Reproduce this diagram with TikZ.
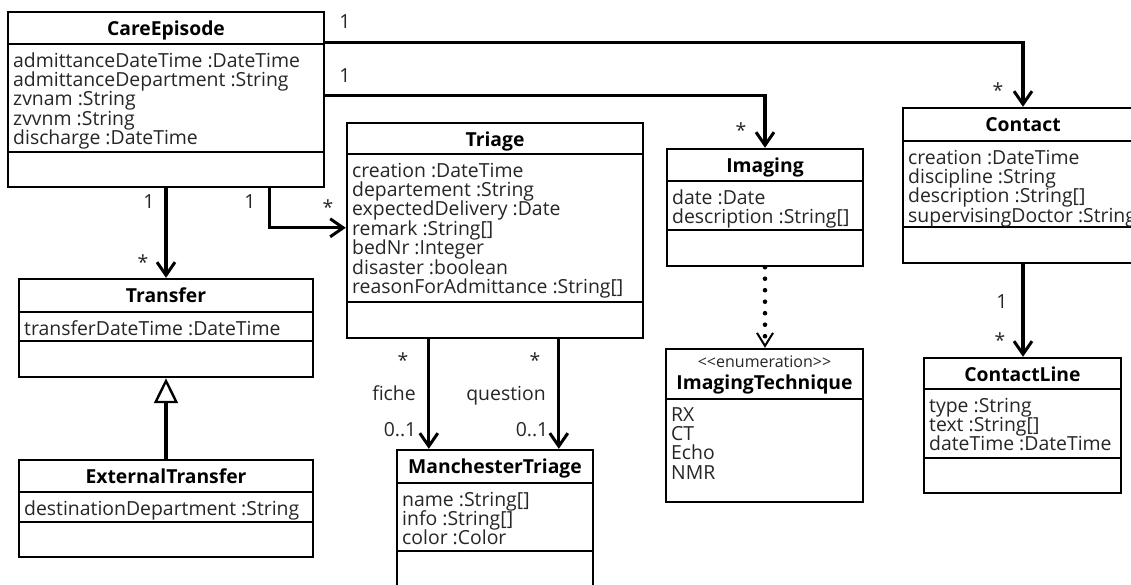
\documentclass[tikz,border=0pt]{standalone}
\usepackage{fontspec}
\setmainfont{Open Sans}
\usetikzlibrary{arrows.meta,fit,calc}

% class box: name, x1, x2, top, divider 1, divider 2, bottom, title, attributes
\newcommand\classbox[9]{%
  \node[box, fit={(#2,#4) (#3,#7)}] (#1) {};
  \draw[rule] (#2,#5) -- (#3,#5);
  \draw[rule] (#2,#6) -- (#3,#6);
  \node[ttl] (#1-title) at ({(#2+#3)/2}, #4+23) {#8};
  \foreach \a [count=\i from 0] in {#9}
    \node[attr] (#1-a\i) at (#2+5, #5+23+\i*19.4) {\a};
}

\begin{document}
\begin{tikzpicture}[x=1pt, y=-1pt,
  box/.style={draw, line width=2.4pt, inner sep=0pt, fill=white},
  rule/.style={line width=2.4pt},
  ttl/.style={font=\bfseries\fontsize{19.3}{21}\selectfont, anchor=base, inner sep=0pt},
  attr/.style={font=\fontsize{19.4}{21}\selectfont, anchor=base west, inner sep=0pt, text=black!85},
  lbl/.style={font=\fontsize{19.4}{21}\selectfont, anchor=base, inner sep=0pt, text=black!85},
  assoc/.style={line width=3.2pt, -{Straight Barb[length=13pt, width=18pt, line width=3pt]}},
  dep/.style={line width=4.6pt, line cap=round, dash pattern=on 0pt off 11.5pt,
    -{Straight Barb[length=13pt, width=16pt, line width=2pt]}},
  gen/.style={line width=3.2pt, -{Triangle[open, length=25pt, width=24pt, line width=2.4pt, fill=white]}}
]
\useasboundingbox (0,0) rectangle (1131,584);
\clip (0,0) rectangle (1131,584);

\classbox{care}{8}{324}{12}{44}{152}{187}{CareEpisode}%
  {admittanceDateTime :DateTime, admittanceDepartment :String, zvnam :String, zvvnm :String, discharge :DateTime}
\classbox{triage}{347}{643}{123}{154}{302}{338}{Triage}%
  {creation :DateTime, departement :String, expectedDelivery :Date, remark :String[], bedNr :Integer, disaster :boolean, reasonForAdmittance :String[]}
\classbox{imaging}{667}{863}{149}{181}{230}{266}{Imaging}%
  {date :Date, description :String[]}
\classbox{contact}{903}{1143}{108}{141}{227}{263}{Contact}%
  {creation :DateTime, discipline :String, description :String[], supervisingDoctor :String}
\classbox{transfer}{19}{313}{279}{312}{341}{377}{Transfer}%
  {transferDateTime :DateTime}
\classbox{ext}{19}{313}{460}{492}{522}{557}{ExternalTransfer}%
  {destinationDepartment :String}
\classbox{mt}{397}{593}{450}{483}{551}{600}{ManchesterTriage}%
  {name :String[], info :String[], color :Color}
\classbox{cline}{924}{1121}{358}{389}{458}{493}{ContactLine}%
  {type :String, text :String[], dateTime :DateTime}

% enumeration with a single compartment
\node[box, fit={(666,349) (863,502)}] (imtech) {};
\draw[rule] (666,399) -- (863,399);
\node[font=\fontsize{16}{18}\selectfont, anchor=base, inner sep=0pt, text=black!85]
  (imtech-st) at (764.5,367) {{<}{<}enumeration{>}{>}};
\node[ttl] (imtech-title) at (764.5,389) {ImagingTechnique};
\foreach \a [count=\i from 0] in {RX, CT, Echo, NMR}
  \node[attr] (imtech-a\i) at (671, 421+\i*19.4) {\a};

% associations
\draw[assoc] ($(care.north east)+(0,32)$) -| (contact.north);
\draw[assoc] ($(care.north east)+(0,85)$) -| (imaging.north);
\draw[assoc] (care.south) -- (transfer.north);
\draw[assoc] ($(care.south west)+(263,0)$) |- ($(triage.north west)+(0,106)$);
\draw[assoc] ($(triage.south west)+(83,0)$) -- ($(mt.north west)+(33,0)$);
\draw[assoc] ($(triage.south west)+(213,0)$) -- ($(mt.north west)+(163,0)$);
\draw[assoc] (contact.south) -- (contact.south |- cline.north);
\draw[dep] (imaging.south) -- (imaging.south |- imtech.north);
\draw[gen] (ext.north) -- (transfer.south);

% multiplicities and role names
\node[lbl] (m1) at (345,28) {1};
\node[lbl] (m2) at (998,97) {*};
\node[lbl] (m3) at (345,82) {1};
\node[lbl] (m4) at (741,137) {*};
\node[lbl] (m5) at (149,208) {1};
\node[lbl] (m6) at (143,269) {*};
\node[lbl] (m7) at (250,208) {1};
\node[lbl] (m8) at (328,214) {*};
\node[lbl] (m9) at (403,367) {*};
\node[lbl] (r1) at (394,400) {fiche};
\node[lbl] (m10) at (400,436) {0..1};
\node[lbl] (m11) at (535,367) {*};
\node[lbl] (r2) at (506,400) {question};
\node[lbl] (m12) at (532,436) {0..1};
\node[lbl] (m13) at (1002,308) {1};
\node[lbl] (m14) at (1000,347) {*};
\end{tikzpicture}
\end{document}
